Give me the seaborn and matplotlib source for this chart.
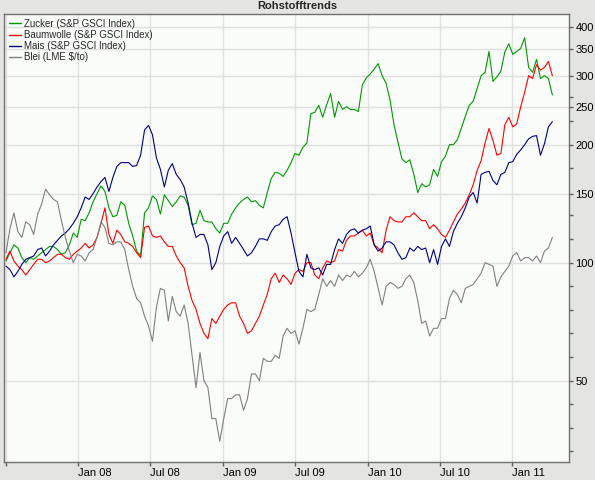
import pandas as pd
import numpy as np
import seaborn as sns
import matplotlib.pyplot as plt
import matplotlib.ticker as mticker

dates = pd.date_range("2007-07-02", periods=139, freq="10D")

zucker = [101, 106, 111, 109, 103, 100, 103, 102, 104, 106,
          108, 110, 110, 108, 105, 106, 111, 119, 116, 129,
          128, 134, 143, 150, 157, 152, 138, 131, 132, 143,
          140, 126, 117, 107, 104, 134, 138, 148, 145, 133,
          149, 144, 139, 143, 148, 147, 140, 125, 126, 136,
          128, 127, 127, 122, 119, 126, 126, 133, 138, 142,
          145, 147, 143, 144, 140, 138, 151, 164, 170, 169,
          166, 172, 180, 190, 188, 197, 202, 240, 242, 252,
          235, 253, 270, 235, 258, 246, 250, 246, 246, 243,
          284, 296, 303, 312, 322, 300, 287, 260, 225, 203,
          184, 180, 183, 168, 151, 159, 156, 158, 173, 166,
          181, 187, 200, 200, 206, 220, 236, 252, 258, 278,
          300, 306, 346, 290, 298, 308, 345, 362, 340, 346,
          352, 375, 315, 306, 330, 295, 300, 295, 268]

baumwolle = [102, 107, 101, 98, 96, 93, 96, 99, 102, 102,
             100, 101, 103, 105, 105, 103, 102, 105, 107, 109,
             112, 109, 111, 116, 126, 138, 118, 112, 121, 118,
             113, 112, 110, 106, 103, 123, 124, 117, 116, 117,
             113, 110, 110, 104, 100, 97, 87, 80, 76, 70,
             66, 64, 72, 70, 73, 76, 78, 79, 79, 73,
             70, 66, 67, 70, 73, 78, 83, 91, 94, 89,
             93, 91, 88, 94, 96, 95, 100, 100, 93, 91,
             97, 101, 100, 101, 108, 107, 114, 117, 117, 119,
             121, 117, 119, 111, 109, 106, 121, 131, 128, 127,
             127, 131, 131, 134, 131, 128, 128, 122, 125, 122,
             118, 116, 121, 127, 133, 137, 142, 149, 158, 172,
             182, 202, 220, 205, 188, 190, 225, 235, 222, 226,
             250, 272, 300, 295, 320, 310, 315, 326, 300]

mais = [98, 96, 92, 95, 99, 102, 103, 104, 108, 109,
        104, 107, 111, 114, 117, 119, 122, 126, 131, 138,
        147, 145, 150, 156, 161, 165, 152, 165, 176, 180,
        180, 180, 176, 177, 188, 218, 224, 212, 185, 173,
        156, 172, 179, 168, 163, 156, 142, 126, 116, 118,
        118, 111, 96, 100, 110, 117, 120, 112, 116, 112,
        108, 104, 106, 110, 115, 115, 114, 120, 124, 125,
        129, 131, 119, 106, 95, 92, 105, 97, 96, 97,
        93, 99, 99, 108, 115, 112, 118, 121, 122, 119,
        121, 122, 124, 111, 107, 109, 113, 113, 111, 106,
        102, 103, 109, 107, 110, 108, 109, 100, 108, 99,
        110, 115, 110, 120, 126, 131, 138, 147, 151, 142,
        168, 170, 171, 162, 158, 168, 170, 180, 181, 189,
        194, 200, 207, 210, 211, 188, 201, 222, 229]

blei = [106, 122, 134, 120, 116, 127, 125, 118, 133, 141,
        154, 149, 145, 143, 128, 116, 107, 100, 105, 104,
        101, 106, 108, 116, 127, 123, 112, 111, 113, 113,
        108, 96, 87, 81, 79, 73, 69, 63, 77, 86,
        85, 71, 82, 75, 73, 78, 70, 58, 48, 59,
        50, 48, 40, 40, 35, 40, 45, 45, 46, 46,
        42, 45, 52, 52, 50, 57, 56, 56, 58, 57,
        65, 68, 66, 67, 62, 68, 76, 75, 76, 83,
        91, 87, 90, 87, 93, 90, 93, 92, 95, 92,
        94, 97, 102, 95, 86, 78, 87, 89, 88, 86,
        87, 91, 93, 89, 80, 70, 71, 65, 68, 68,
        72, 72, 81, 85, 83, 79, 86, 87, 88, 91,
        94, 100, 99, 98, 87, 92, 95, 98, 104, 106,
        101, 103, 103, 101, 104, 100, 107, 109, 116]

series_names = ["Zucker (S&P GSCI Index)", "Baumwolle (S&P GSCI Index)",
                "Mais (S&P GSCI Index)", "Blei (LME $/to)"]
colors = ["#009900", "#ff0000", "#000080", "#808080"]

tick_dates = pd.to_datetime(["2007-07-01", "2008-01-01", "2008-07-01", "2009-01-01",
                             "2009-07-01", "2010-01-01", "2010-07-01", "2011-01-01"])
tick_labels = ["", "Jan 08", "Jul 08", "Jan 09", "Jul 09", "Jan 10", "Jul 10", "Jan 11"]
y_ticks = [50, 100, 150, 200, 250, 300, 350, 400]

# long format fuer seaborn
df = pd.concat([
    pd.DataFrame({"Datum": dates, "Wert": vals, "Serie": name})
    for name, vals in zip(series_names, [zucker, baumwolle, mais, blei])
])

sns.set_style("ticks")
plt.rcParams["font.family"] = ["Liberation Sans", "DejaVu Sans"]
plt.rcParams["font.size"] = 8

fig = plt.figure(figsize=(5.95, 4.8), dpi=100, facecolor="#e4e4e0")
ax = fig.add_axes([4 / 595, 18 / 480, 565 / 595, 448 / 480])
ax.set_facecolor("#fafcfa")

sns.lineplot(data=df, x="Datum", y="Wert", hue="Serie", hue_order=series_names,
             palette=colors, linewidth=0.8, ax=ax)

ax.set_yscale("log")
ax.set_ylim(31, 431)
ax.set_xlim(pd.Timestamp("2007-06-27"), pd.Timestamp("2011-05-24"))

ax.yaxis.tick_right()
ax.yaxis.set_major_locator(mticker.FixedLocator(y_ticks))
ax.yaxis.set_major_formatter(mticker.FixedFormatter([str(v) for v in y_ticks]))
minor = [v for v in 25 * 2 ** (np.arange(0, 30) / 5) if 31 < v < 431 and
         min(abs(np.log(v / t)) for t in y_ticks) > 0.03]
ax.yaxis.set_minor_locator(mticker.FixedLocator(minor))
ax.yaxis.set_minor_formatter(mticker.NullFormatter())

ax.set_xticks(tick_dates)
ax.set_xticklabels(tick_labels, ha="left")

ax.tick_params(axis="both", which="major", length=3, width=1, color="#606060",
               labelsize=8, labelcolor="#000000", pad=1.5)
ax.tick_params(axis="y", which="minor", length=3, width=1, color="#606060")
ax.tick_params(axis="x", which="minor", bottom=False)

ax.grid(True, which="major", color="#e0e0e0", linewidth=1)
ax.set_axisbelow(True)
for side in ["left", "right", "top", "bottom"]:
    ax.spines[side].set_color("#707070")
    ax.spines[side].set_linewidth(1)

ax.set_xlabel("")
ax.set_ylabel("")

leg = ax.legend(loc="upper left", frameon=False, fontsize=7, handlelength=1.25,
                handletextpad=0.35, labelspacing=0.12, borderaxespad=0.2, borderpad=0.3)
for line in leg.get_lines():
    line.set_linewidth(1)

fig.suptitle("Rohstofftrends", y=1 - 1 / 480, va="top", fontsize=8, fontweight="bold")

fig.savefig("out.png", dpi=100, facecolor=fig.get_facecolor())
